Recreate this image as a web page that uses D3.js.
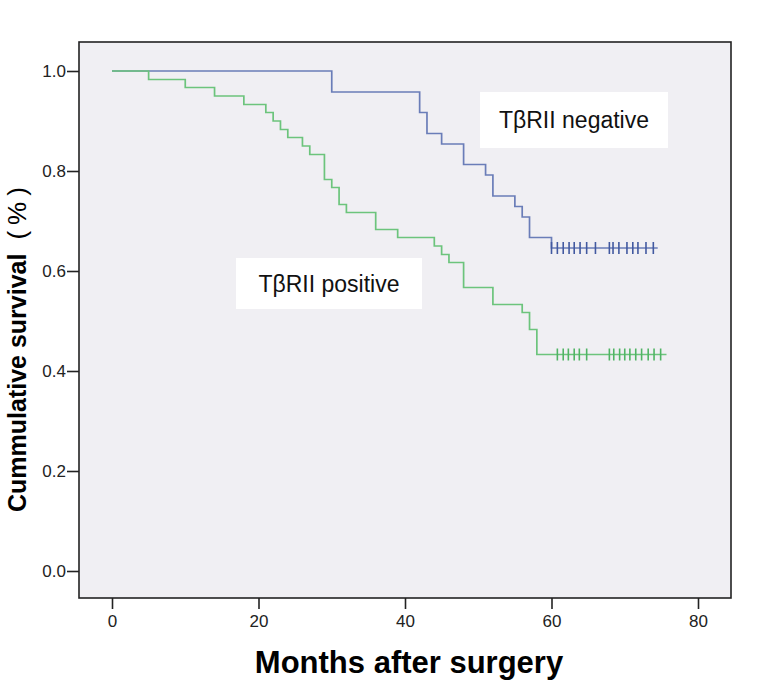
<!DOCTYPE html>
<html lang="en">
<head>
    <meta charset="UTF-8">
    <title>Survival</title>
    <script type="text/javascript" src="https://cdnjs.cloudflare.com/ajax/libs/d3/7.8.5/d3.min.js"></script>
    <style>
        body { margin: 0; background: #fff; }
        text { font-family: "Liberation Sans", Arial, sans-serif; }
    </style>
</head>
<body>
<div id="chart"></div>
<script>
    // TβRII negative group (step times in months, survival after each step)
    var negMonths = [0, 30, 42, 43, 45, 48, 51, 52, 55, 56, 57, 60];
    var negSurvival = [1.0, 0.958, 0.917, 0.875, 0.854, 0.813, 0.792, 0.750, 0.729, 0.708, 0.667, 0.646];
    var negLast = 74.5;
    var negCensored = [60.0, 60.8, 61.6, 62.4, 63.1, 63.9, 64.8, 66.0, 67.9, 68.4, 69.2, 70.3, 71.1, 71.8, 72.9, 73.9];

    // TβRII positive group
    var posMonths = [0, 5, 10, 14, 18, 21, 22, 23, 24, 26, 27, 29, 30, 31, 32, 36, 39, 44, 45, 46, 48, 52, 56, 57, 58];
    var posSurvival = [1.0, 0.983, 0.967, 0.950, 0.933, 0.917, 0.900, 0.883, 0.867, 0.850, 0.833, 0.783, 0.767, 0.733, 0.717, 0.683, 0.667, 0.650, 0.633, 0.617, 0.567, 0.533, 0.517, 0.483, 0.433];
    var posLast = 75.7;
    var posCensored = [60.8, 61.6, 62.3, 63.1, 63.8, 64.8, 67.9, 68.5, 69.3, 70.0, 70.7, 71.5, 72.3, 73.2, 74.0, 74.9];

    var xTicks = [0, 20, 40, 60, 80];
    var yTicks = [0.0, 0.2, 0.4, 0.6, 0.8, 1.0];

    var width = 762, height = 685;
    var frame = {left: 79, top: 42, right: 731, bottom: 598};

    var x = d3.scaleLinear().domain([0, 80]).range([112, 698]);
    var y = d3.scaleLinear().domain([0, 1]).range([571, 71]);

    var svg = d3.select("#chart").append("svg")
        .attr("width", width)
        .attr("height", height);

    // plot background
    svg.append("rect")
        .attr("x", frame.left)
        .attr("y", frame.top)
        .attr("width", frame.right - frame.left)
        .attr("height", frame.bottom - frame.top)
        .attr("fill", "#f0eff3")
        .attr("stroke", "#222")
        .attr("stroke-width", 1.6);

    // axes
    var xAxis = d3.axisBottom(x).tickValues(xTicks).tickSize(11).tickPadding(6).tickFormat(d3.format("d"));
    var gx = svg.append("g")
        .attr("transform", "translate(0," + frame.bottom + ")")
        .call(xAxis);
    gx.select(".domain").remove();
    gx.selectAll(".tick line").attr("stroke", "#222").attr("stroke-width", 1.6);
    gx.selectAll(".tick text").attr("font-size", 17).attr("fill", "#222")
        .style("font-family", "Liberation Sans, Arial, sans-serif");

    var yAxis = d3.axisLeft(y).tickValues(yTicks).tickSize(12).tickPadding(1).tickFormat(d3.format(".1f"));
    var gy = svg.append("g")
        .attr("transform", "translate(" + frame.left + ",0)")
        .call(yAxis);
    gy.select(".domain").remove();
    gy.selectAll(".tick line").attr("stroke", "#222").attr("stroke-width", 1.6);
    gy.selectAll(".tick text").attr("font-size", 17).attr("fill", "#222")
        .style("font-family", "Liberation Sans, Arial, sans-serif");

    // survival curves
    var stepLine = d3.line()
        .x(function(d) { return x(d[0]); })
        .y(function(d) { return y(d[1]); })
        .curve(d3.curveStepAfter);

    function curve(months, surv, last, censored, lineColor, markColor) {
        var pts = months.map(function(m, i) { return [m, surv[i]]; });
        pts.push([last, surv[surv.length - 1]]);
        svg.append("path")
            .datum(pts)
            .attr("d", stepLine)
            .attr("fill", "none")
            .attr("stroke", lineColor)
            .attr("stroke-width", 1.7);
        var s = surv[surv.length - 1];
        svg.append("g").selectAll("line")
            .data(censored)
            .enter().append("line")
            .attr("x1", function(d) { return x(d); })
            .attr("x2", function(d) { return x(d); })
            .attr("y1", y(s) - 6)
            .attr("y2", y(s) + 6)
            .attr("stroke", markColor)
            .attr("stroke-width", 1.6);
    }

    curve(negMonths, negSurvival, negLast, negCensored, "#6a7db8", "#4259a0");
    curve(posMonths, posSurvival, posLast, posCensored, "#6cc47c", "#50b464");

    // curve labels
    function label(bx, by, bw, bh, txt) {
        svg.append("rect")
            .attr("x", bx).attr("y", by)
            .attr("width", bw).attr("height", bh)
            .attr("fill", "#fff");
        svg.append("text")
            .attr("x", bx + bw / 2)
            .attr("y", by + bh / 2 + 8)
            .attr("text-anchor", "middle")
            .attr("font-size", 23)
            .attr("fill", "#111")
            .text(txt);
    }
    label(480, 92, 188, 56, "TβRII negative");
    label(236, 258, 186, 51, "TβRII positive");

    // axis titles
    svg.append("text")
        .attr("x", 409)
        .attr("y", 673)
        .attr("text-anchor", "middle")
        .attr("font-size", 31)
        .attr("font-weight", "bold")
        .attr("fill", "#000")
        .text("Months after surgery");

    var yt = svg.append("text")
        .attr("transform", "translate(26,512) rotate(-90)")
        .attr("text-anchor", "start")
        .attr("font-size", 25)
        .attr("font-weight", "bold")
        .attr("fill", "#000");
    yt.append("tspan").text("Cummulative survival");
    yt.append("tspan").attr("dx", 14).attr("font-weight", "normal").attr("font-size", 26).text("(");
    yt.append("tspan").attr("dx", 6).attr("font-weight", "normal").attr("font-size", 26).text("%");
    yt.append("tspan").attr("dx", 6).attr("font-weight", "normal").attr("font-size", 26).text(")");
</script>
</body>
</html>
